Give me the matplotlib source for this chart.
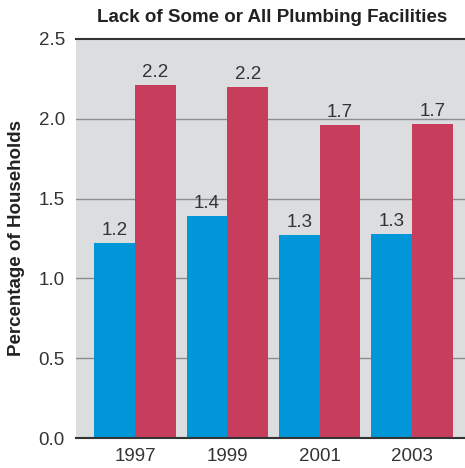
import matplotlib.pyplot as plt
import numpy as np

years = ["1997", "1999", "2001", "2003"]
blue_vals = [1.22, 1.39, 1.27, 1.28]
red_vals = [2.21, 2.20, 1.96, 1.97]
blue_labels = ["1.2", "1.4", "1.3", "1.3"]
red_labels = ["2.2", "2.2", "1.7", "1.7"]

blue = "#0096d8"
red = "#c73e5d"

plt.rcParams['font.family'] = ['Liberation Sans', 'DejaVu Sans']

fig = plt.figure(figsize=(4.65, 4.68), dpi=100)
ax = fig.add_axes([0.1634, 0.0641, 0.8366, 0.8526])
ax.set_facecolor("#dcdddf")

x = np.arange(len(years))
w = 0.44
b1 = ax.bar(x - w / 2, blue_vals, w, color=blue, zorder=3)
b2 = ax.bar(x + w / 2, red_vals, w, color=red, zorder=3)

for bars, labs in ((b1, blue_labels), (b2, red_labels)):
    for bar, lab in zip(bars, labs):
        ax.text(bar.get_x() + bar.get_width() / 2, bar.get_height() + 0.025, lab,
                ha="center", va="bottom", fontsize=13.5, color="#333333", zorder=4)

ax.set_ylim(0, 2.5)
ax.set_xlim(-0.64, 3.575)
ax.set_yticks([0, 0.5, 1.0, 1.5, 2.0, 2.5])
ax.set_yticklabels(["0.0", "0.5", "1.0", "1.5", "2.0", "2.5"])
ax.set_xticks(x)
ax.set_xticklabels(years)
ax.tick_params(axis="both", length=0, labelsize=13.5, labelcolor="#333333")
ax.tick_params(axis="y", pad=8)
ax.tick_params(axis="x", pad=7)

for y in [0.5, 1.0, 1.5, 2.0]:
    ax.axhline(y, color="#8c8c8c", lw=1, zorder=1)
ax.axhline(2.5, color="#333333", lw=1.5, zorder=5, clip_on=False)
ax.axhline(0, color="#333333", lw=1.5, zorder=5, clip_on=False)

for s in ax.spines.values():
    s.set_visible(False)

ax.set_ylabel("Percentage of Households", fontsize=13.5, fontweight="bold", color="#222222", labelpad=10)
fig.text(0.585, 0.963, "Lack of Some or All Plumbing Facilities", ha="center", va="center",
         fontsize=13.5, fontweight="bold", color="#222222")

plt.savefig("out.png", dpi=100)
